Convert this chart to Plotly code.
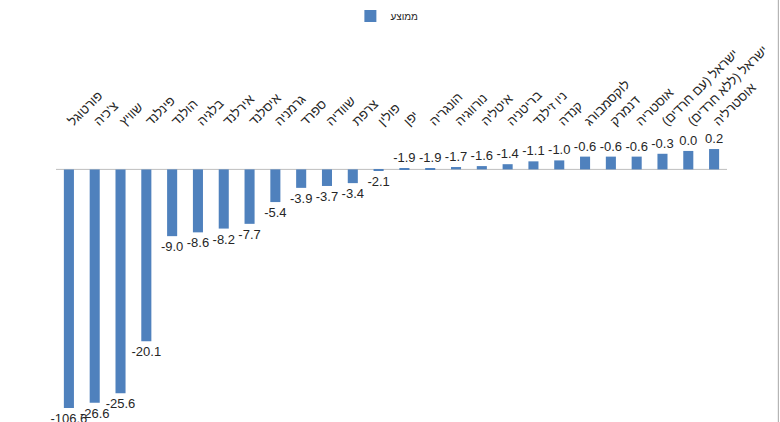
import numpy as np
import plotly.graph_objects as go

# ---- data ----
categories = [
    "פורטוגל", "צ'כיה", "שוויץ", "פינלנד", "הולנד", "בלגיה", "אירלנד",
    "איסלנד", "גרמניה", "ספרד", "שוודיה", "צרפת", "פולין", "יפן",
    "הונגריה", "נורווגיה", "איטליה", "בריטניה", "ניו זילנד", "קנדה",
    "לוקסמבורג", "דנמרק", "אוסטריה", "ישראל (עם חרדים)",
    "ישראל (ללא חרדים)", "אוסטרליה",
]
values = [
    -106.6, -26.6, -25.6, -20.1, -9.0, -8.6, -8.2, -7.7, -5.4, -3.9,
    -3.7, -3.4, -2.1, -1.9, -1.9, -1.7, -1.6, -1.4, -1.1, -1.0,
    -0.6, -0.6, -0.6, -0.3, 0.0, 0.2,
]
series_name = "ממוצע"

# ---- axis settings (horizontal axis crosses the value axis at AXIS_CROSS) ----
AXIS_CROSS = -1.95
Y_MIN, Y_MAX = -27.15, 2.0

FONT = "Liberation Sans, DejaVu Sans, Arial, sans-serif"
BAR_COLOR = "#4F81BD"
TEXT_COLOR = "#262626"

vals = np.array(values, dtype=float)
shown = np.maximum(vals, Y_MIN)          # bars are cut at the axis minimum
labels = [f"{v:.1f}" for v in values]
cat_display = [c + "\u200f" for c in categories]   # keep RTL punctuation right

fig = go.Figure(
    go.Bar(
        x=cat_display,
        y=shown - AXIS_CROSS,
        base=AXIS_CROSS,
        name=series_name,
        showlegend=True,
        marker=dict(color=BAR_COLOR, line=dict(width=0)),
        width=0.39,
        text=labels,
        texttemplate="%{text}",
        textposition="outside",
        constraintext="none",
        cliponaxis=False,
        textfont=dict(family=FONT, size=13, color=TEXT_COLOR),
        hoverinfo="skip",
    )
)

fig.add_shape(
    type="line", xref="paper", yref="y",
    x0=0, x1=1, y0=AXIS_CROSS, y1=AXIS_CROSS,
    line=dict(color="#BFBFBF", width=1), layer="below",
)
# chart area border on the right
fig.add_shape(
    type="line", xref="paper", yref="paper",
    x0=1.0765, x1=1.0765, y0=-0.2, y1=1.7,
    line=dict(color="#A6A6A6", width=1),
)

fig.update_layout(
    width=780, height=422,
    margin=dict(l=56, r=53, t=132, b=14, autoexpand=False),
    paper_bgcolor="white", plot_bgcolor="white",
    font=dict(family=FONT, color=TEXT_COLOR),
    bargap=0.61,
    showlegend=True,
    legend=dict(
        orientation="h",
        xref="container", yref="container",
        x=0.496, y=1 - 16 / 422,
        xanchor="center", yanchor="middle",
        font=dict(family=FONT, size=10, color=TEXT_COLOR),
        bgcolor="rgba(0,0,0,0)",
        itemwidth=30,
    ),
    xaxis=dict(
        side="top", tickangle=-45, automargin=False,
        showgrid=False, showline=False, zeroline=False, ticks="",
        tickfont=dict(family=FONT, size=13, color=TEXT_COLOR),
    ),
    yaxis=dict(
        range=[Y_MIN, Y_MAX], visible=False, automargin=False,
        showgrid=False, zeroline=False,
    ),
)

fig.write_html(
    "out.html",
    config={"displayModeBar": False},
    post_script="document.body.style.margin='0';document.body.style.overflow='hidden';",
)
